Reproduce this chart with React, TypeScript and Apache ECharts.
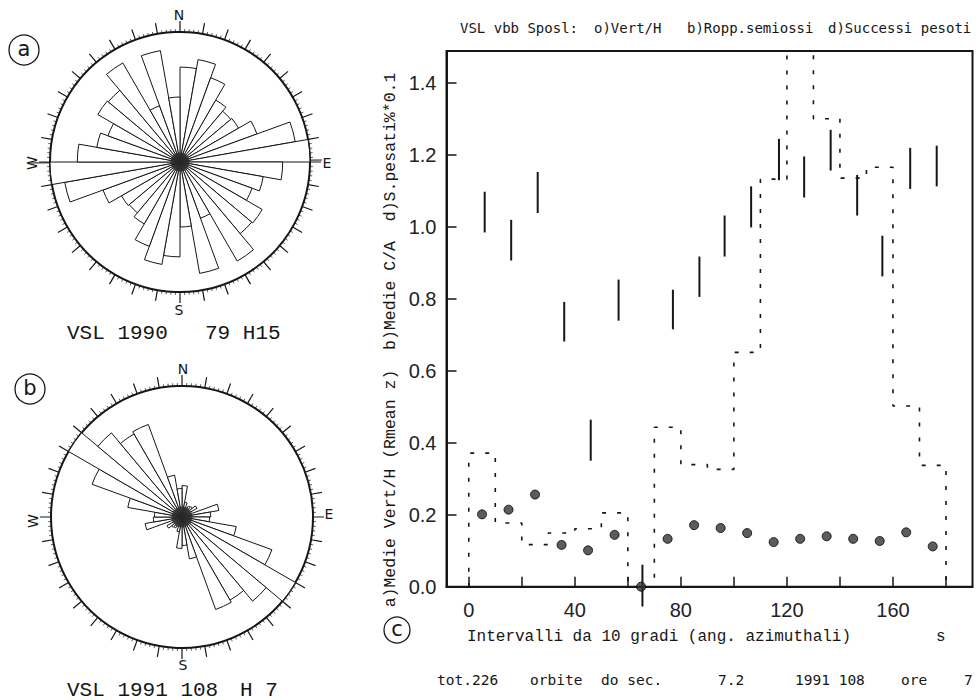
import React, { useEffect, useRef } from "react";
import * as echarts from "echarts";

// ---------- data (chart c) ----------
const binEdges = [0, 10, 20, 30, 40, 50, 60, 70, 80, 90, 100, 110, 120, 130, 140, 150, 160, 170, 180];
const binCenters = [5, 15, 25, 35, 45, 55, 65, 75, 85, 95, 105, 115, 125, 135, 145, 155, 165, 175];
// a) Medie Vert/H (Rmean z)
const vertH = [0.201, 0.214, 0.256, 0.116, 0.101, 0.144, 0.0, 0.133, 0.171, 0.163, 0.149, 0.124, 0.133, 0.14, 0.133, 0.127, 0.151, 0.112];
// b) Medie C/A (ranges)
const caX = [6, 16, 26, 36, 46, 56.5, 65.5, 77, 87, 96.5, 106.5, 117, 126.5, 136.5, 146.5, 156, 166.5, 176.5];
const caLow = [0.984, 0.906, 1.038, 0.681, 0.35, 0.739, -0.055, 0.715, 0.805, 0.917, 0.998, 1.129, 1.081, 1.156, 1.031, 0.862, 1.105, 1.112];
const caHigh = [1.097, 1.019, 1.152, 0.791, 0.464, 0.853, 0.061, 0.825, 0.917, 1.031, 1.112, 1.244, 1.195, 1.269, 1.144, 0.975, 1.219, 1.225];
// d) Successi pesati %*0.1
const succPesati = [0.371, 0.177, 0.117, 0.149, 0.161, 0.205, 0.0, 0.443, 0.339, 0.326, 0.651, 1.132, 1.6, 1.3, 1.135, 1.165, 0.502, 0.337];

const xTicks = [0, 20, 40, 60, 80, 100, 120, 140, 160, 180];
const xLabels = [0, 40, 80, 120, 160];
const yTicks = [0, 0.2, 0.4, 0.6, 0.8, 1.0, 1.2, 1.4];

// ---------- data (rose diagrams, 10 degree bins 0..180, axial) ----------
const roseA = [0.73, 0.8, 0.69, 0.55, 0.51, 0.52, 0.63, 0.9, 1.3, 0.79, 0.65, 0.59, 0.73, 0.72, 0.88, 0.46, 0.87, 0.5];
const roseB = [0.371, 0.177, 0.117, 0.149, 0.161, 0.205, 0.0, 0.443, 0.339, 0.326, 0.651, 1.132, 1.7, 1.3, 1.135, 1.165, 0.502, 0.337];
const roseCats = Array.from({ length: 36 }, (_, i) => String(i * 10));

const INK = "#161616";
const MONO = '"Liberation Mono", "DejaVu Sans Mono", monospace';
const PLOT = '"DejaVu Sans Mono", monospace';
const SANS = '"DejaVu Sans", "Liberation Sans", sans-serif';

function txt(text: string, x: number, y: number, size: number, family: string, align = "left", extra: any = {}) {
  return {
    type: "text",
    x,
    y,
    silent: true,
    ...extra,
    style: { text, fill: INK, fontSize: size, fontFamily: family, textAlign: align, textVerticalAlign: "middle" },
  };
}

function circled(letter: string, cx: number, cy: number, r: number) {
  return [
    { type: "circle", shape: { cx, cy, r }, style: { fill: "none", stroke: INK, lineWidth: 1.3 }, silent: true },
    txt(letter, cx, cy - 1, 21, SANS, "center"),
  ];
}

function roseSet(pIdx: number, center: number[], radius: number, rMax: number) {
  return {
    polar: [
      { center, radius },
      { center, radius },
    ],
    angleAxis: [
      {
        polarIndex: pIdx,
        type: "category",
        data: roseCats,
        startAngle: 90,
        clockwise: true,
        boundaryGap: true,
        axisLine: { show: false },
        axisTick: { show: false },
        axisLabel: { show: false },
        splitLine: { show: false },
      },
      {
        polarIndex: pIdx + 1,
        type: "value",
        min: 0,
        max: 360,
        interval: 10,
        startAngle: 90,
        clockwise: true,
        axisLine: { show: true, lineStyle: { color: INK, width: 2 } },
        axisTick: { show: true, length: 11, lineStyle: { color: INK, width: 1.2 } },
        minorTick: { show: true, splitNumber: 5, length: 3, lineStyle: { color: INK, width: 0.7 } },
        axisLabel: { show: false },
        splitLine: { show: false },
        minorSplitLine: { show: false },
      },
    ],
    radiusAxis: [
      { polarIndex: pIdx, type: "value", min: 0, max: rMax, show: false, axisLine: { show: false }, axisTick: { show: false }, axisLabel: { show: false }, splitLine: { show: false } },
      { polarIndex: pIdx + 1, type: "value", min: 0, max: rMax, show: false, axisLine: { show: false }, axisTick: { show: false }, axisLabel: { show: false }, splitLine: { show: false } },
    ],
  };
}

export default function App() {
  const ref = useRef<HTMLDivElement>(null);

  useEffect(() => {
    if (!ref.current) return;
    const chart = echarts.init(ref.current, undefined, { renderer: "svg" });

    const ra = roseSet(0, [180, 162], 130, 1.0);
    const rb = roseSet(2, [182, 517], 131, 1.55);

    const stepData: number[][] = [[binEdges[0], 0]];
    succPesati.forEach((v, i) => stepData.push([binEdges[i], v]));
    stepData.push([binEdges[18], succPesati[17]]);
    stepData.push([binEdges[18], 0]);

    const rangeData = caX.map((x, i) => [x, caLow[i], caHigh[i]]);
    const dotData = binCenters.map((x, i) => [x, vertH[i]]);

    const graphic: any[] = [
      // title
      txt("VSL vbb Sposl:", 460, 28, 14, PLOT),
      txt("o)Vert/H", 594, 28, 14, PLOT),
      txt("b)Ropp.semiossi", 687, 28, 14, PLOT),
      txt("d)Successi pesoti", 828, 28, 14, PLOT),
      // y axis name
      txt("a)Medie Vert/H (Rmean z)  b)Medie C/A  d)S.pesati%*0.1", 390, 340, 16.5, MONO, "center", { rotation: Math.PI / 2 }),
      // x axis name
      txt("Intervalli da 10 gradi (ang. azimuthali)", 467, 637, 16, MONO),
      txt("s", 936, 637, 16, MONO),
      // bottom line
      txt("tot.226", 437, 680, 14.5, PLOT),
      txt("orbite", 530, 680, 14.5, PLOT),
      txt("do sec.", 601, 680, 14.5, PLOT),
      txt("7.2", 718, 680, 14.5, PLOT),
      txt("1991 108", 795, 680, 14.5, PLOT),
      txt("ore", 901, 680, 14.5, PLOT),
      txt("7", 964, 680, 14.5, PLOT),
      // circled letters
      ...circled("a", 24, 50, 15),
      ...circled("b", 30, 389, 15),
      ...circled("c", 397, 630, 13),
      // rose a labels
      txt("N", 179, 15, 14, SANS, "center"),
      txt("S", 179, 310, 14, SANS, "center"),
      txt("E", 327, 163, 14, SANS, "center"),
      txt("W", 32, 163, 14, SANS, "center", { rotation: Math.PI / 2 }),
      txt("VSL 1990", 67, 333, 21, MONO),
      txt("79 H15", 205, 333, 21, MONO),
      // rose b labels
      txt("N", 183, 369, 14, SANS, "center"),
      txt("S", 183, 665, 14, SANS, "center"),
      txt("E", 329, 514, 14, SANS, "center"),
      txt("W", 33, 521, 14, SANS, "center", { rotation: Math.PI / 2 }),
      txt("VSL 1991 108", 67, 690, 21, MONO),
      txt("H 7", 240, 690, 21, MONO),
      // E-W line through rose a
      { type: "line", silent: true, shape: { x1: 29, y1: 163, x2: 322, y2: 160 }, style: { stroke: INK, lineWidth: 1.2 } },
    ];

    const option: any = {
      animation: false,
      backgroundColor: "#ffffff",
      grid: [{ left: 446.5, top: 51, width: 526, height: 535.7, show: true, borderColor: INK, borderWidth: 2, backgroundColor: "transparent" }],
      xAxis: [
        {
          type: "value",
          min: -8.4,
          max: 190,
          axisLine: { show: true, onZero: false, lineStyle: { color: INK, width: 2 } },
          axisTick: { show: true, inside: true, length: 10, lineStyle: { color: INK, width: 1.5 }, customValues: xTicks },
          axisLabel: { show: true, customValues: xLabels, color: "#222", fontSize: 20, fontFamily: '"Liberation Sans", Arial, sans-serif', margin: 13 },
          splitLine: { show: false },
        },
      ],
      yAxis: [
        {
          type: "value",
          min: 0,
          max: 1.488,
          axisLine: { show: true, onZero: false, lineStyle: { color: INK, width: 2 } },
          axisTick: { show: true, inside: true, length: 10, lineStyle: { color: INK, width: 1.5 }, customValues: yTicks },
          axisLabel: {
            show: true,
            customValues: yTicks,
            formatter: (v: number) => v.toFixed(1),
            color: "#222",
            fontSize: 20,
            fontFamily: '"Liberation Sans", Arial, sans-serif',
            margin: 10,
          },
          splitLine: { show: false },
        },
      ],
      polar: [...ra.polar, ...rb.polar],
      angleAxis: [...ra.angleAxis, ...rb.angleAxis],
      radiusAxis: [...ra.radiusAxis, ...rb.radiusAxis],
      graphic,
      series: [
        {
          name: "d) Successi pesati",
          type: "line",
          xAxisIndex: 0,
          yAxisIndex: 0,
          step: "end",
          data: stepData,
          symbol: "none",
          lineStyle: { color: INK, width: 1.6, type: [4, 11] },
          z: 2,
        },
        {
          name: "b) Medie C/A",
          type: "custom",
          xAxisIndex: 0,
          yAxisIndex: 0,
          data: rangeData,
          encode: { x: 0, y: [1, 2] },
          clip: false,
          renderItem: (params: any, api: any) => {
            const x = api.value(0);
            const p1 = api.coord([x, api.value(1)]);
            const p2 = api.coord([x, api.value(2)]);
            return { type: "line", shape: { x1: p1[0], y1: p1[1], x2: p2[0], y2: p2[1] }, style: { stroke: INK, lineWidth: 2 } };
          },
          z: 3,
        },
        {
          name: "a) Medie Vert/H",
          type: "scatter",
          xAxisIndex: 0,
          yAxisIndex: 0,
          data: dotData,
          symbol: "circle",
          symbolSize: 9,
          clip: false,
          itemStyle: { color: "#333", borderColor: "#000", borderWidth: 1 },
          z: 4,
        },
        {
          name: "rose a",
          type: "bar",
          coordinateSystem: "polar",
          polarIndex: 0,
          data: [...roseA, ...roseA],
          barCategoryGap: "0%",
          itemStyle: { color: "#ffffff", borderColor: INK, borderWidth: 1 },
        },
        {
          name: "rose a centre",
          type: "scatter",
          coordinateSystem: "polar",
          polarIndex: 0,
          data: [[0, 0]],
          symbolSize: 19,
          itemStyle: { color: "#2a2a2a" },
          z: 5,
        },
        {
          name: "rose b",
          type: "bar",
          coordinateSystem: "polar",
          polarIndex: 2,
          data: [...roseB, ...roseB],
          barCategoryGap: "0%",
          itemStyle: { color: "#ffffff", borderColor: INK, borderWidth: 1 },
        },
        {
          name: "rose b centre",
          type: "scatter",
          coordinateSystem: "polar",
          polarIndex: 2,
          data: [[0, 0]],
          symbolSize: 21,
          itemStyle: { color: "#2a2a2a" },
          z: 5,
        },
      ],
    };

    chart.setOption(option);
    return () => chart.dispose();
  }, []);

  return <div ref={ref} style={{ position: "fixed", left: 0, top: 0, width: 979, height: 700, background: "#fff" }} />;
}
